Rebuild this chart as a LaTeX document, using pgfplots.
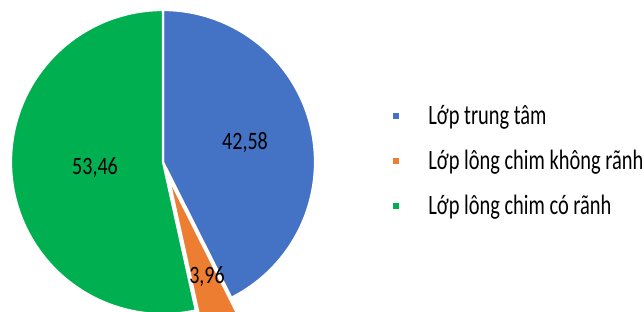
\documentclass[border=0pt]{standalone}
\usepackage{pgfplots}
\pgfplotsset{compat=1.18}
\usepackage{fontspec}
\setmainfont[FakeStretch=0.80]{Carlito}
\newfontfamily\legfont[FakeStretch=0.73]{Carlito}
\definecolor{cblue}{HTML}{4472C4}
\definecolor{corange}{HTML}{ED7D31}
\definecolor{cgreen}{HTML}{00B050}
% data (percent)
\def\vA{42.58}
\def\vB{3.96}
\def\vC{53.46}
\begin{document}
\begin{tikzpicture}
\pgfmathsetmacro{\aA}{90}
\pgfmathsetmacro{\aB}{90-3.6*\vA}
\pgfmathsetmacro{\aC}{\aB-3.6*\vB}
\pgfmathsetmacro{\aD}{\aC-3.6*\vC}
\begin{axis}[
  scale only axis, width=642pt, height=311pt,
  xmin=0, xmax=642, ymin=0, ymax=311,
  axis lines=none, clip=true,
  font=\fontsize{25}{28}\selectfont,
  legend style={at={(axis cs:388,150)}, anchor=west, draw=none, fill=none,
    font=\legfont\fontsize{28}{32}\selectfont, row sep=20pt, column sep=25pt,
    cells={anchor=west}},
  legend image code/.code={\fill[#1] (0pt,-4pt) rectangle (8pt,4pt);},
]
\addplot[fill=cblue, draw=white, line width=2.2pt, domain=\aA:\aB, samples=90, variable=\t]
  ({163+152*cos(t)},{149+152*sin(t)}) -- (163,149) -- cycle;
\addlegendentry{Lớp trung tâm}
\addplot[fill=corange, draw=white, line width=2.2pt, domain=\aB:\aC, samples=20, variable=\t]
  ({168.5+152*cos(t)},{134+152*sin(t)}) -- (168.5,134) -- cycle;
\addlegendentry{Lớp lông chim không rãnh}
\addplot[fill=cgreen, draw=white, line width=2.2pt, domain=\aC:\aD, samples=120, variable=\t]
  ({163+152*cos(t)},{149+152*sin(t)}) -- (163,149) -- cycle;
\addlegendentry{Lớp lông chim có rãnh}
\node at (axis cs:245,168) {42,58};
\node at (axis cs:95,143) {53,46};
\node at (axis cs:207,34) {3,96};
\end{axis}
\pgfresetboundingbox
\path (current axis.south west) rectangle (current axis.north east);
\end{tikzpicture}
\end{document}
